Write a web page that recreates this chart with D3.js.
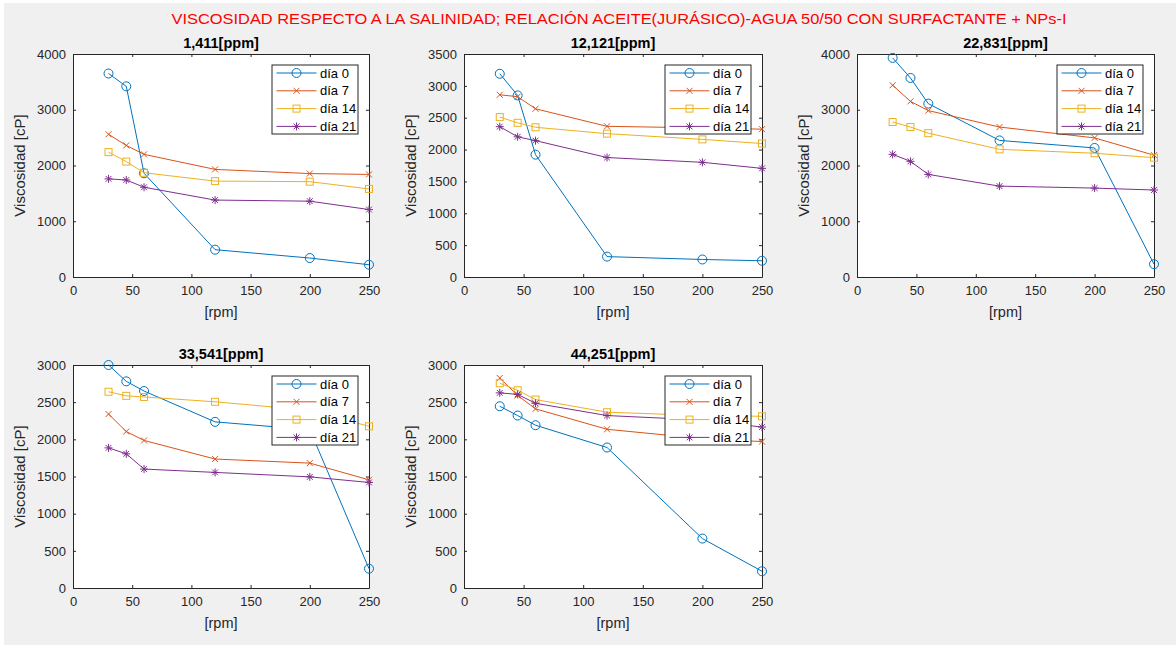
<!DOCTYPE html>
<html><head><meta charset="utf-8">
<script src="https://cdn.jsdelivr.net/npm/d3@7"></script>
<style>body{margin:0;background:#fff}svg{display:block}</style>
</head><body>
<script>
const rpm = [30, 45, 60, 120, 200, 250];
const seriesNames = ["día 0", "día 7", "día 14", "día 21"];
const panelTitles = ["1,411[ppm]", "12,121[ppm]", "22,831[ppm]", "33,541[ppm]", "44,251[ppm]"];
const yMaxes = [4000, 3500, 4000, 3000, 3000];
const yStep = [1000, 500, 1000, 500, 500];
const xTicks = [0, 50, 100, 150, 200, 250];

const p1_d0 = [3650, 3420, 1860, 490, 340, 220];
const p1_d7 = [2560, 2360, 2200, 1930, 1855, 1840];
const p1_d14 = [2240, 2070, 1870, 1720, 1710, 1580];
const p1_d21 = [1760, 1740, 1610, 1380, 1360, 1210];

const p2_d0 = [3190, 2850, 1920, 320, 275, 255];
const p2_d7 = [2860, 2830, 2640, 2365, 2340, 2320];
const p2_d14 = [2510, 2420, 2350, 2250, 2160, 2095];
const p2_d21 = [2360, 2200, 2140, 1875, 1800, 1705];

const p3_d0 = [3930, 3570, 3110, 2450, 2315, 230];
const p3_d7 = [3440, 3150, 2985, 2690, 2495, 2185];
const p3_d14 = [2780, 2690, 2580, 2290, 2220, 2140];
const p3_d21 = [2200, 2075, 1840, 1630, 1595, 1560];

const p4_d0 = [3000, 2780, 2650, 2235, 2130, 260];
const p4_d7 = [2340, 2105, 1985, 1735, 1680, 1455];
const p4_d14 = [2640, 2585, 2570, 2505, 2390, 2175];
const p4_d21 = [1885, 1805, 1600, 1555, 1495, 1420];

const p5_d0 = [2445, 2320, 2190, 1890, 665, 225];
const p5_d7 = [2825, 2590, 2410, 2135, 2010, 1970];
const p5_d14 = [2755, 2660, 2535, 2365, 2320, 2310];
const p5_d21 = [2625, 2605, 2485, 2320, 2260, 2165];

const panelData = [
  [p1_d0, p1_d7, p1_d14, p1_d21],
  [p2_d0, p2_d7, p2_d14, p2_d21],
  [p3_d0, p3_d7, p3_d14, p3_d21],
  [p4_d0, p4_d7, p4_d14, p4_d21],
  [p5_d0, p5_d7, p5_d14, p5_d21]
];

const colors = ["#0072BD", "#D95319", "#EDB120", "#7E2F8E"];
const markers = ["circle", "x", "square", "star"];
const axisCol = "#262626";
const font = "'Liberation Sans', Arial, sans-serif";

const W = 1176, H = 645;
const svg = d3.select("body").append("svg").attr("width", W).attr("height", H);
svg.append("rect").attr("width", W).attr("height", H).attr("fill", "#ffffff");
svg.append("rect").attr("x", 4).attr("y", 3).attr("width", W - 4).attr("height", H - 3).attr("fill", "#f0f0f0");

svg.append("text").attr("x", 619).attr("y", 23.5).attr("text-anchor", "middle")
  .attr("font-family", font).attr("font-size", 15.5).attr("fill", "#ff0000")
  .attr("textLength", 895).attr("lengthAdjust", "spacingAndGlyphs")
  .text("VISCOSIDAD RESPECTO A LA SALINIDAD; RELACIÓN ACEITE(JURÁSICO)-AGUA 50/50 CON SURFACTANTE + NPs-I");

const boxes = [
  {x0: 73, x1: 369, y0: 54, y1: 277},
  {x0: 464, x1: 762, y0: 54, y1: 277},
  {x0: 857, x1: 1154, y0: 54, y1: 277},
  {x0: 73, x1: 369, y0: 365, y1: 588},
  {x0: 464, x1: 762, y0: 365, y1: 588}
];

function drawMarker(g, type, cx, cy, color) {
  if (type === "circle") {
    g.append("circle").attr("cx", cx).attr("cy", cy).attr("r", 4.5)
      .attr("fill", "none").attr("stroke", color).attr("stroke-width", 1);
  } else if (type === "x") {
    const s = 3;
    g.append("path").attr("d", `M${cx-s},${cy-s}L${cx+s},${cy+s}M${cx-s},${cy+s}L${cx+s},${cy-s}`)
      .attr("stroke", color).attr("stroke-width", 1).attr("fill", "none");
  } else if (type === "square") {
    const s = 3.5;
    g.append("rect").attr("x", cx - s).attr("y", cy - s).attr("width", 2*s).attr("height", 2*s)
      .attr("fill", "none").attr("stroke", color).attr("stroke-width", 1);
  } else {
    const s = 4, d = 2.9;
    g.append("path").attr("d", `M${cx},${cy-s}L${cx},${cy+s}M${cx-s},${cy}L${cx+s},${cy}M${cx-d},${cy-d}L${cx+d},${cy+d}M${cx-d},${cy+d}L${cx+d},${cy-d}`)
      .attr("stroke", color).attr("stroke-width", 1).attr("fill", "none");
  }
}

boxes.forEach((b, i) => {
  const x = d3.scaleLinear().domain([0, 250]).range([b.x0, b.x1]);
  const y = d3.scaleLinear().domain([0, yMaxes[i]]).range([b.y1, b.y0]);
  const g = svg.append("g");
  g.append("rect").attr("x", b.x0).attr("y", b.y0).attr("width", b.x1 - b.x0).attr("height", b.y1 - b.y0)
    .attr("fill", "#ffffff");

  const yt = d3.range(0, yMaxes[i] + 1, yStep[i]);
  const tl = 3;
  const xa = g.append("g").attr("transform", `translate(0,${b.y1})`)
    .call(d3.axisBottom(x).tickValues(xTicks).tickSizeInner(-tl).tickSizeOuter(0).tickPadding(9).tickFormat(d3.format("d")));
  const ya = g.append("g").attr("transform", `translate(${b.x0},0)`)
    .call(d3.axisLeft(y).tickValues(yt).tickSizeInner(-tl).tickSizeOuter(0).tickPadding(7).tickFormat(d3.format("d")));
  const xt = g.append("g").attr("transform", `translate(0,${b.y0})`)
    .call(d3.axisTop(x).tickValues(xTicks).tickSizeInner(-tl).tickSizeOuter(0).tickFormat(""));
  const yr = g.append("g").attr("transform", `translate(${b.x1},0)`)
    .call(d3.axisRight(y).tickValues(yt).tickSizeInner(-tl).tickSizeOuter(0).tickFormat(""));
  [xa, ya, xt, yr].forEach(a => {
    a.selectAll("path.domain").attr("stroke", axisCol).attr("stroke-width", 1);
    a.selectAll("line").attr("stroke", axisCol);
    a.selectAll("text").attr("font-family", font).attr("font-size", 13).attr("fill", axisCol);
  });

  panelData[i].forEach((vals, s) => {
    const pts = rpm.map((r, k) => [x(r), y(vals[k])]);
    g.append("path").attr("d", d3.line()(pts)).attr("fill", "none")
      .attr("stroke", colors[s]).attr("stroke-width", 1);
    pts.forEach(p => drawMarker(g, markers[s], p[0], p[1], colors[s]));
  });

  g.append("text").attr("x", (b.x0 + b.x1) / 2).attr("y", b.y0 - 6).attr("text-anchor", "middle")
    .attr("font-family", font).attr("font-size", 14.5).attr("font-weight", "bold").attr("fill", "#000")
    .text(panelTitles[i]);
  g.append("text").attr("x", (b.x0 + b.x1) / 2).attr("y", b.y1 + 40).attr("text-anchor", "middle")
    .attr("font-family", font).attr("font-size", 14.5).attr("fill", axisCol).text("[rpm]");
  g.append("text").attr("transform", `translate(${b.x0 - 48},${(b.y0 + b.y1) / 2}) rotate(-90)`)
    .attr("text-anchor", "middle").attr("font-family", font).attr("font-size", 15).attr("fill", axisCol)
    .text("Viscosidad [cP]");

  const lx = b.x1 - 97, ly = b.y0 + 11, lw = 86, lh = 69;
  const lg = g.append("g");
  lg.append("rect").attr("x", lx).attr("y", ly).attr("width", lw).attr("height", lh)
    .attr("fill", "#ffffff").attr("stroke", axisCol).attr("stroke-width", 1);
  seriesNames.forEach((nm, s) => {
    const cy = ly + 8 + s * 17.8;
    lg.append("line").attr("x1", lx + 4.5).attr("x2", lx + 44.5).attr("y1", cy).attr("y2", cy)
      .attr("stroke", colors[s]).attr("stroke-width", 1);
    drawMarker(lg, markers[s], lx + 24.5, cy, colors[s]);
    lg.append("text").attr("x", lx + 48).attr("y", cy + 4.5).attr("font-family", font).attr("font-size", 13)
      .attr("fill", "#000").text(nm);
  });
});
</script>
</body></html>
